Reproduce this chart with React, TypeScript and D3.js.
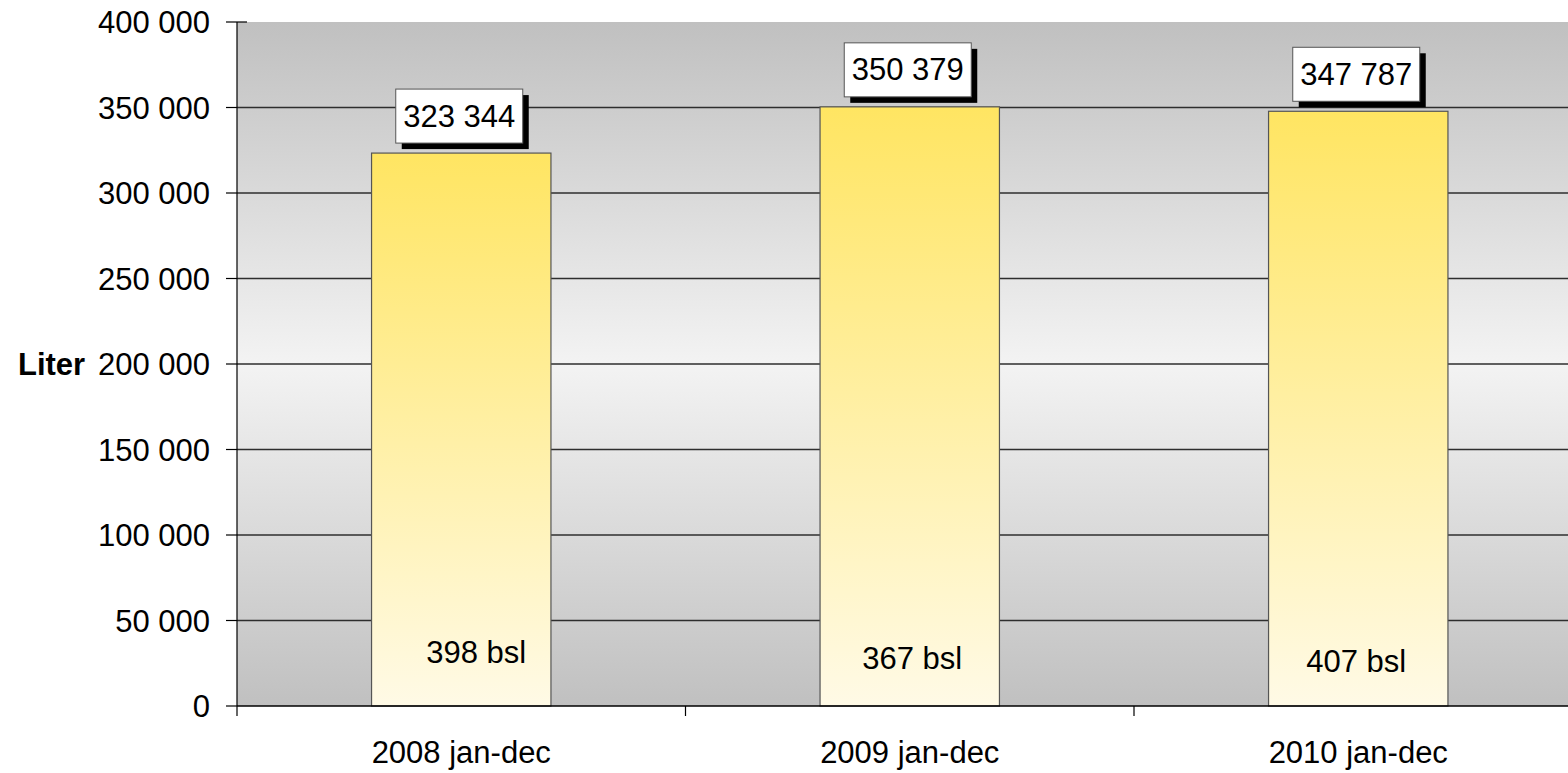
import React from "react";
import * as d3 from "d3";

const categories = ["2008 jan-dec", "2009 jan-dec", "2010 jan-dec"];
const values = [323344, 350379, 347787];
const bslLabels = ["398 bsl", "367 bsl", "407 bsl"];
const yTicks = [0, 50000, 100000, 150000, 200000, 250000, 300000, 350000, 400000];

// manual placement offsets of the bsl text boxes (dx from bar centre, baseline y)
const bslDx = [15, 2.5, -2];
const bslY = [663, 669, 672];

const W = 1568;
const H = 773;
const left = 237;
const top = 22;
const bottom = 706;
const band = 448.5;
const FONT = "'Liberation Sans', Arial, sans-serif";
const FS = 31;

export default function App() {
  const x = d3
    .scaleBand<string>()
    .domain(categories)
    .range([left, left + band * categories.length])
    .paddingInner(0.6)
    .paddingOuter(0.3);
  const xCat = d3.scaleBand<string>().domain(categories).range([left, left + band * categories.length]);
  const y = d3.scaleLinear().domain([0, 400000]).range([bottom, top]);
  const fmt = (v: number) => d3.format(",")(v).replace(/,/g, " ");
  const plotRight = left + band * categories.length;

  return (
    <svg
      width={W}
      height={H}
      style={{ position: "absolute", left: 0, top: 0, display: "block" }}
      fontFamily={FONT}
    >
      <defs>
        <linearGradient id="bg" x1="0" y1="0" x2="0" y2="1">
          <stop offset="0" stopColor="#c0c0c0" />
          <stop offset="0.5" stopColor="#f3f3f3" />
          <stop offset="1" stopColor="#c0c0c0" />
        </linearGradient>
        <linearGradient id="bar" x1="0" y1="0" x2="0" y2="1">
          <stop offset="0" stopColor="#ffe562" />
          <stop offset="1" stopColor="#fffae6" />
        </linearGradient>
      </defs>
      <rect x={0} y={0} width={W} height={H} fill="#ffffff" />
      <rect x={left} y={top} width={plotRight - left} height={bottom - top} fill="url(#bg)" />
      {/* gridlines */}
      {yTicks
        .filter((t) => t > 0 && t < 400000)
        .map((t) => (
          <line key={t} x1={left} x2={plotRight} y1={y(t)} y2={y(t)} stroke="#2e2e2e" strokeWidth={1.4} />
        ))}
      {/* bars */}
      {categories.map((c, i) => (
        <rect
          key={c}
          x={x(c)!}
          y={y(values[i])}
          width={x.bandwidth()}
          height={bottom - y(values[i])}
          fill="url(#bar)"
          stroke="#555555"
          strokeWidth={1.2}
        />
      ))}
      {/* axes */}
      <line x1={left} x2={left} y1={top} y2={bottom + 10} stroke="#000" strokeWidth={1.2} />
      <line x1={left} x2={plotRight} y1={bottom} y2={bottom} stroke="#000" strokeWidth={1.4} />
      {yTicks.map((t) => (
        <g key={t}>
          <line x1={226} x2={t === 400000 ? 247 : left} y1={y(t)} y2={y(t)} stroke="#000" strokeWidth={1.2} />
          <text x={210} y={y(t) + 11} textAnchor="end" fontSize={FS} fill="#000">
            {fmt(t)}
          </text>
        </g>
      ))}
      {categories.map((c, i) => (
        <line
          key={"xt" + c}
          x1={xCat(c)! + band}
          x2={xCat(c)! + band}
          y1={bottom}
          y2={bottom + 10}
          stroke="#000"
          strokeWidth={1.2}
        />
      ))}
      <text x={18} y={y(200000) + 11} fontSize={FS} fontWeight="bold" fill="#000">
        Liter
      </text>
      {categories.map((c) => (
        <text key={"xl" + c} x={xCat(c)! + band / 2} y={763} textAnchor="middle" fontSize={FS} fill="#000">
          {c}
        </text>
      ))}
      {/* value labels */}
      {categories.map((c, i) => {
        const cx = x(c)! + x.bandwidth() / 2 - 2;
        const bw = 127;
        const bh = 54;
        const by = y(values[i]) - 10 - bh;
        return (
          <g key={"vl" + c}>
            <rect x={cx - bw / 2 + 6} y={by + 6} width={bw} height={bh} fill="#000" />
            <rect x={cx - bw / 2} y={by} width={bw} height={bh} fill="#fff" stroke="#555" strokeWidth={1} />
            <text x={cx} y={by + bh / 2 + 10.5} textAnchor="middle" fontSize={FS} fill="#000">
              {fmt(values[i])}
            </text>
          </g>
        );
      })}
      {/* bsl labels */}
      {categories.map((c, i) => (
        <text
          key={"bsl" + c}
          x={x(c)! + x.bandwidth() / 2 + bslDx[i]}
          y={bslY[i]}
          textAnchor="middle"
          fontSize={FS}
          fill="#000"
        >
          {bslLabels[i]}
        </text>
      ))}
    </svg>
  );
}
